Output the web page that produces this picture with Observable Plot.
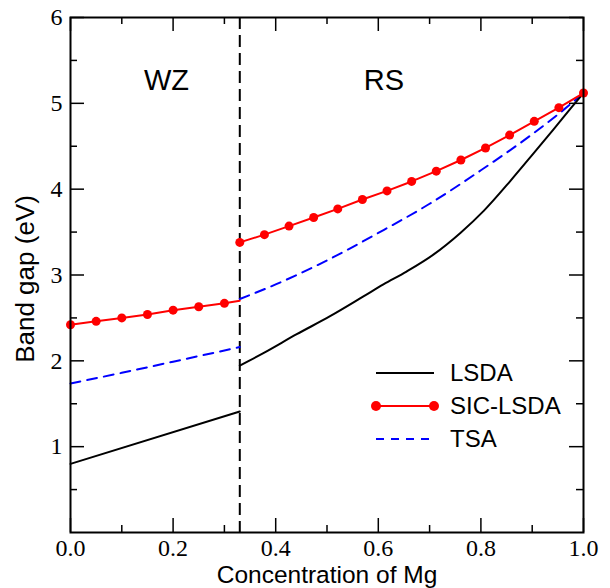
<!DOCTYPE html>
<html>
<head>
<meta charset="utf-8">
<script src="https://cdn.jsdelivr.net/npm/d3@7"></script>
<script src="https://cdn.jsdelivr.net/npm/@observablehq/plot@0.6"></script>
<style>
  body { margin: 0; background: #fff; }
  #wrap { position: relative; width: 610px; height: 588px; overflow: hidden; }
  #legend { position: absolute; left: 0; top: 0; pointer-events: none; }
</style>
</head>
<body>
<div id="wrap"></div>
<script>
// ---- data ----
const boundaryX = 0.33;

const lsdaWzX = [0, 0.33];
const lsdaWzY = [0.80, 1.41];
const lsdaRsX = [0.33, 0.376, 0.441, 0.506, 0.571, 0.61, 0.655, 0.708, 0.76, 0.806, 0.858, 0.903, 0.942, 0.975, 1.0];
const lsdaRsY = [1.945, 2.09, 2.31, 2.52, 2.75, 2.89, 3.04, 3.24, 3.49, 3.75, 4.10, 4.42, 4.70, 4.94, 5.12];

const sicWzX = [0, 0.05, 0.10, 0.15, 0.20, 0.25, 0.30, 0.33];
const sicWzY = [2.42, 2.46, 2.50, 2.54, 2.59, 2.63, 2.67, 2.70];
const sicWzMarked = [true, true, true, true, true, true, true, false];
const sicRsX = [0.33, 0.378, 0.426, 0.474, 0.521, 0.569, 0.617, 0.665, 0.713, 0.761, 0.809, 0.856, 0.904, 0.952, 1.0];
const sicRsY = [3.38, 3.47, 3.57, 3.67, 3.77, 3.88, 3.98, 4.09, 4.21, 4.34, 4.48, 4.63, 4.79, 4.95, 5.12];

const tsaWzX = [0, 0.1, 0.2, 0.33];
const tsaWzY = [1.735, 1.86, 1.99, 2.16];
const tsaRsX = [0.33, 0.4, 0.5, 0.6, 0.7, 0.8, 0.9, 0.95, 1.0];
const tsaRsY = [2.72, 2.89, 3.17, 3.49, 3.83, 4.22, 4.64, 4.87, 5.12];

const regionNames = ["WZ", "RS"];
const regionX = [0.187, 0.611];
const regionY = [5.26, 5.26];

const seriesNames = ["LSDA", "SIC-LSDA", "TSA"];
const seriesColors = ["#000000", "#ff0000", "#0000ff"];

const xMajor = [0, 0.2, 0.4, 0.6, 0.8, 1.0];
const xMinor = [0.1, 0.3, 0.5, 0.7, 0.9];
const yLabels = [1, 2, 3, 4, 5, 6];
const yMinor = [0.5, 1.5, 2.5, 3.5, 4.5, 5.5];

const xTitle = "Concentration of Mg";
const yTitle = "Band gap (eV)";

// ---- build ----
const zip = (xs, ys) => xs.map((x, i) => ({x, y: ys[i]}));
const W = 610, H = 588;
const mL = 70, mR = 27, mT = 17, mB = 56;
const innerW = W - mL - mR, innerH = H - mT - mB;
const major = 14, minor = 7;
const serif = "'Liberation Serif', 'Times New Roman', serif";
const sans = "'Liberation Sans', Arial, Helvetica, sans-serif";

const sicWzDots = zip(sicWzX, sicWzY).filter((d, i) => sicWzMarked[i]);

const plot = Plot.plot({
  width: W, height: H,
  marginLeft: mL, marginRight: mR, marginTop: mT, marginBottom: mB,
  x: {domain: [0, 1]},
  y: {domain: [0, 6]},
  style: {fontFamily: serif, background: "white", color: "black"},
  marks: [
    // tick labels
    Plot.axisX({ticks: xMajor, tickSize: 0, tickPadding: 6, tickFormat: d => d.toFixed(1), fontSize: 24, fontFamily: serif, label: null}),
    Plot.axisY({ticks: yLabels, tickSize: 0, tickPadding: 8, tickFormat: d => String(d), fontSize: 24, fontFamily: serif, label: null}),
    // inward ticks
    Plot.tickX(xMajor, {x: d => d, insetTop: innerH - major, strokeWidth: 1.5}),
    Plot.tickX(xMajor, {x: d => d, insetBottom: innerH - major, strokeWidth: 1.5}),
    Plot.tickX(xMinor, {x: d => d, insetTop: innerH - minor, strokeWidth: 1.5}),
    Plot.tickX(xMinor, {x: d => d, insetBottom: innerH - minor, strokeWidth: 1.5}),
    Plot.tickY(yLabels, {y: d => d, insetRight: innerW - major, strokeWidth: 1.5}),
    Plot.tickY(yLabels, {y: d => d, insetLeft: innerW - major, strokeWidth: 1.5}),
    Plot.tickY(yMinor, {y: d => d, insetRight: innerW - minor, strokeWidth: 1.5}),
    Plot.tickY(yMinor, {y: d => d, insetLeft: innerW - minor, strokeWidth: 1.5}),
    // phase boundary
    Plot.ruleX([boundaryX], {x: d => d, stroke: "black", strokeWidth: 2, strokeDasharray: "12,6"}),
    // series
    Plot.line(zip(tsaWzX, tsaWzY), {x: "x", y: "y", stroke: seriesColors[2], strokeWidth: 2, strokeDasharray: "10,7"}),
    Plot.line(zip(tsaRsX, tsaRsY), {x: "x", y: "y", stroke: seriesColors[2], strokeWidth: 2, strokeDasharray: "10,7", curve: "monotone-x"}),
    Plot.line(zip(lsdaWzX, lsdaWzY), {x: "x", y: "y", stroke: seriesColors[0], strokeWidth: 2}),
    Plot.line(zip(lsdaRsX, lsdaRsY), {x: "x", y: "y", stroke: seriesColors[0], strokeWidth: 2, curve: "monotone-x"}),
    Plot.line(zip(sicWzX, sicWzY), {x: "x", y: "y", stroke: seriesColors[1], strokeWidth: 2}),
    Plot.line(zip(sicRsX, sicRsY), {x: "x", y: "y", stroke: seriesColors[1], strokeWidth: 2}),
    Plot.dot(sicWzDots, {x: "x", y: "y", r: 4.5, fill: seriesColors[1], stroke: "none"}),
    Plot.dot(zip(sicRsX, sicRsY), {x: "x", y: "y", r: 4.5, fill: seriesColors[1], stroke: "none"}),
    // region labels
    Plot.text(regionNames, {x: (d, i) => regionX[i], y: (d, i) => regionY[i], text: d => d, fontSize: 29, fontFamily: sans, fill: "black"}),
    // axis titles
    Plot.text([xTitle], {frameAnchor: "bottom", text: d => d, textAnchor: "middle", dy: 50.8, lineAnchor: "bottom", fontSize: 24.5, fontFamily: sans, fill: "black"}),
    Plot.text([yTitle], {frameAnchor: "left", text: d => d, textAnchor: "middle", dx: -37, dy: 4, rotate: -90, lineAnchor: "bottom", fontSize: 26, fontFamily: sans, fill: "black"}),
    Plot.frame({stroke: "black", strokeWidth: 2})
  ]
});

const wrap = document.getElementById("wrap");
wrap.appendChild(plot);

// legend overlay
const lg = d3.select(wrap).append("svg").attr("id", "legend").attr("width", W).attr("height", H);
const lx0 = 376, lx1 = 434, ltx = 450, ly0 = 373, lstep = 33;
seriesNames.forEach((name, i) => {
  const y = ly0 + i * lstep;
  const g = lg.append("g");
  const ln = g.append("line").attr("x1", lx0).attr("x2", lx1).attr("y1", y).attr("y2", y)
    .attr("stroke", seriesColors[i]).attr("stroke-width", 2);
  if (name === "TSA") ln.attr("stroke-dasharray", "8,7");
  if (name === "SIC-LSDA") {
    g.append("circle").attr("cx", lx0).attr("cy", y).attr("r", 5).attr("fill", seriesColors[i]);
    g.append("circle").attr("cx", lx1).attr("cy", y).attr("r", 5).attr("fill", seriesColors[i]);
  }
  g.append("text").attr("x", ltx).attr("y", y).attr("dy", "0.35em")
    .attr("font-family", sans).attr("font-size", 24).attr("fill", "black").text(name);
});
</script>
</body>
</html>
